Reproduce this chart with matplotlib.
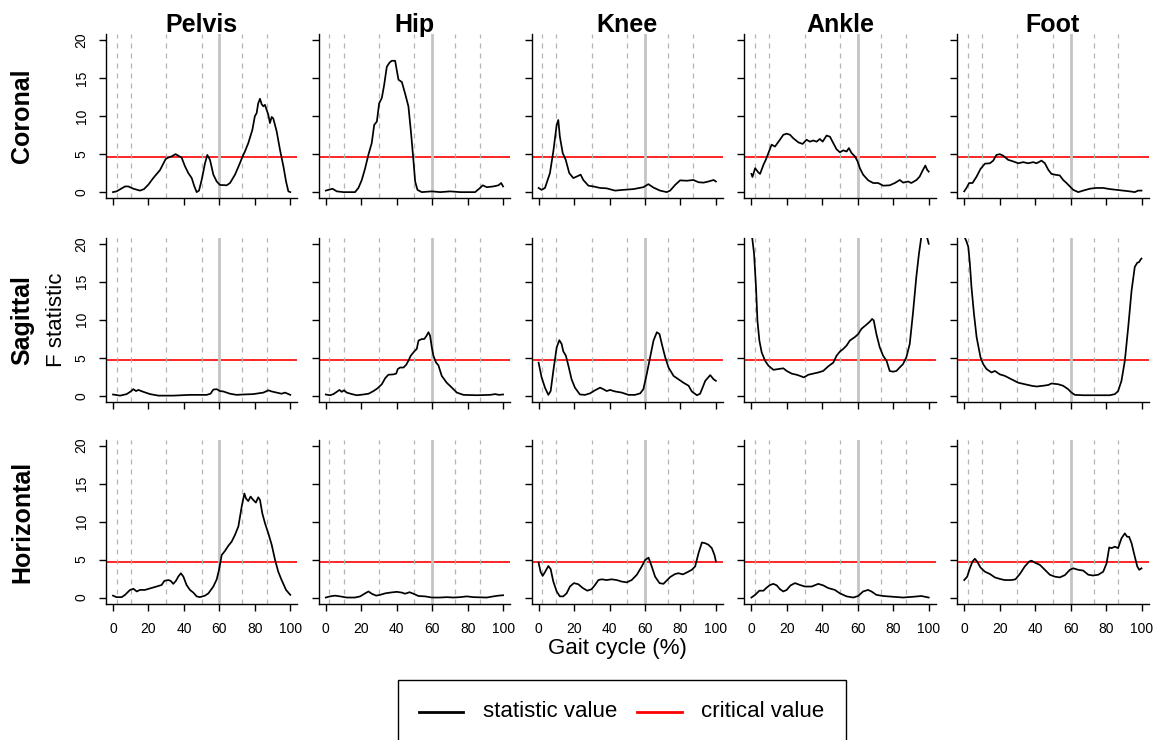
import matplotlib.pyplot as plt
from matplotlib.lines import Line2D
from matplotlib.patches import Rectangle

plt.rcParams['font.family'] = ['Liberation Sans', 'DejaVu Sans']

joints = ['Pelvis', 'Hip', 'Knee', 'Ankle', 'Foot']
planes = ['Coronal', 'Sagittal', 'Horizontal']
critical_value = 4.65
phase_lines = [2, 10, 30, 50, 73, 87]
toe_off = 60
x_ticks = [0, 20, 40, 60, 80, 100]
y_ticks = [0, 5, 10, 15, 20]
legend_labels = ['statistic value', 'critical value']

# ---- Coronal ----
pelvis_cor_x = [0, 2, 6.8, 8.6, 11.5, 15.2, 17.5, 20, 22.7, 26.5, 29.7, 31.2, 33, 35.3, 36.8, 38.7, 40.6,
                42.5, 44.4, 45.9, 47.2, 48.5, 50, 51.9, 53.2, 54.7, 56.6, 58.5, 60.3, 64.1, 66, 68.8, 71.2,
                73.1, 74.4, 76.3, 78.6, 80, 81, 81.9, 82.9, 83.8, 84.8, 85.7, 86.7, 87.6, 88.5, 89.5, 90.4,
                92.3, 94.2, 96.1, 97.6, 98.9, 100]
pelvis_cor_y = [0, 0.1, 0.75, 0.75, 0.45, 0.2, 0.4, 1.0, 1.85, 2.9, 4.35, 4.55, 4.7, 5.0, 4.8, 4.55, 3.4,
                2.5, 1.85, 0.75, 0, 0.2, 1.6, 3.8, 4.9, 4.25, 2.3, 1.4, 0.95, 0.9, 1.2, 2.3, 3.6,
                4.7, 5.35, 6.45, 8.2, 10.0, 10.4, 11.7, 12.3, 11.6, 11.3, 11.5, 10.8, 10.2, 9.1, 9.9, 9.7,
                8.0, 5.55, 3.4, 1.4, 0.1, 0]

hip_cor_x = [0, 3.8, 6.2, 10, 16.5, 18.4, 20.3, 22.2, 24, 25.9, 27.3, 28.8, 30.1, 31.6, 32.9, 34.4, 35.9,
             37.2, 39.1, 40, 41, 42.9, 44.7, 46.6, 48.1, 49.4, 50.4, 51.7, 54.1, 59.8, 64.5, 70.1, 75.8,
             84.2, 87, 88.5, 90.8, 94.5, 97.4, 98.9, 100]
hip_cor_y = [0.2, 0.45, 0.1, 0, 0, 0.55, 1.6, 3.15, 4.9, 6.45, 8.85, 9.3, 11.7, 12.4, 14.1, 16.5, 17.05,
             17.3, 17.3, 16.1, 14.8, 14.5, 13.0, 11.3, 7.75, 4.25, 1.4, 0.3, 0, 0.1, 0, 0.1, 0,
             0, 0.55, 0.9, 0.65, 0.75, 0.9, 1.2, 0.75]

knee_cor_x = [0, 1.7, 3.6, 6.4, 8.3, 10.2, 11.1, 12, 13.6, 15.3, 17.3, 19.6, 21.5, 23.7, 25.2, 28.1, 30.9,
              34.7, 38.4, 43.1, 47.8, 53.5, 59.1, 61.9, 64.8, 68.5, 72.3, 74.2, 77, 79.8, 83.6, 87.3,
              90.2, 93, 95.8, 98.7, 100]
knee_cor_y = [0.55, 0.3, 0.55, 2.5, 5.35, 8.85, 9.5, 7.3, 5.15, 4.25, 2.5, 1.85, 2.05, 2.3, 1.6, 0.85, 0.75,
              0.55, 0.5, 0.2, 0.3, 0.4, 0.65, 1.05, 0.6, 0.2, 0, 0.2, 0.95, 1.55, 1.5, 1.6,
              1.3, 1.25, 1.4, 1.6, 1.4]

ankle_cor_x = [0, 0.6, 2.1, 3.9, 4.9, 6.8, 8.1, 9.6, 11.4, 13.3, 16.1, 18, 19.9, 21.8, 23.6, 26.5, 28.9,
               31.1, 33, 34.9, 36.8, 38.6, 40.2, 42.4, 44.3, 46.2, 48, 49.9, 51.8, 53.7, 55, 56.5, 58.4,
               59.8, 61.2, 63, 65.9, 68.7, 71.5, 74.3, 78, 80.9, 83.7, 85.6, 88.4, 90.2, 93.1, 94.9,
               96.8, 98.1, 99.1, 100]
ankle_cor_y = [2.4, 2.0, 3.15, 2.6, 2.4, 3.6, 4.25, 5.15, 6.25, 6.0, 6.9, 7.55, 7.7, 7.55, 7.1, 6.55, 6.35,
               6.9, 6.65, 6.8, 6.65, 7.0, 6.65, 7.45, 7.3, 6.45, 5.65, 5.25, 5.5, 5.35, 5.8, 5.15, 4.7,
               4.1, 3.15, 2.3, 1.55, 1.2, 1.2, 0.85, 0.9, 1.2, 1.6, 1.25, 1.4, 1.2, 1.6, 2.05,
               2.95, 3.5, 2.95, 2.7]

foot_cor_x = [0, 1.3, 2.8, 4.7, 7, 9.2, 11.7, 14.5, 16.4, 18.2, 20.1, 22, 24.8, 27.6, 30.5, 33.3, 36.1,
              38.9, 40.8, 43.6, 45.5, 47.4, 49.2, 51.1, 53.9, 55.8, 57.7, 59.6, 61.5, 64.3, 67.1, 70.9,
              74.6, 78.4, 82.1, 85.9, 89.7, 93.4, 96.2, 98.1, 100]
foot_cor_y = [0.1, 0.55, 1.2, 1.2, 2.05, 3.05, 3.75, 3.8, 4.15, 4.9, 5.0, 4.8, 4.25, 4.05, 3.8, 3.95, 3.8,
              3.95, 3.8, 4.15, 3.8, 2.95, 2.4, 2.3, 2.2, 1.6, 1.2, 0.75, 0.3, 0, 0.2, 0.45,
              0.55, 0.55, 0.4, 0.3, 0.2, 0.1, 0, 0.2, 0.2]

# ---- Sagittal ----
pelvis_sag_x = [0, 4, 7.7, 10, 11.5, 13, 14.3, 17.1, 20.9, 25.6, 34, 43.4, 52.8, 55, 56.6, 58.5, 60.3,
                62.2, 66, 69.7, 73.5, 79.1, 84.8, 87.6, 89.5, 92.3, 95.1, 97, 100]
pelvis_sag_y = [0.15, 0, 0.2, 0.55, 0.85, 0.6, 0.75, 0.5, 0.2, 0, 0, 0.1, 0.1, 0.25, 0.8, 0.85, 0.6,
                0.55, 0.25, 0.1, 0.15, 0.2, 0.4, 0.7, 0.55, 0.4, 0.25, 0.4, 0.1]

hip_sag_x = [0, 2.4, 4.3, 6.2, 7.7, 9, 10.3, 11.8, 14.7, 17.5, 21.2, 24.1, 26.9, 29.1, 31.6, 33.5, 35.3,
             38.2, 39.7, 40.6, 41.9, 43.8, 45.3, 46.6, 47.9, 49.8, 51.3, 52.3, 54.1, 55.5, 56.6, 57.9,
             58.8, 59.8, 60.7, 62.2, 63.5, 65.4, 68.2, 71.1, 73.9, 77.6, 85.2, 92.7, 95.5, 97.7, 100]
hip_sag_y = [0.15, 0.05, 0.2, 0.5, 0.75, 0.5, 0.7, 0.4, 0.2, 0.05, 0.15, 0.25, 0.6, 0.95, 1.5, 2.3, 2.75,
             2.8, 2.9, 3.5, 3.7, 3.7, 4.05, 4.6, 5.25, 5.8, 6.15, 7.25, 7.45, 7.45, 7.8, 8.35,
             7.9, 6.35, 5.25, 4.35, 4.0, 2.6, 1.7, 1.05, 0.4, 0.1, 0.05, 0.1, 0.2, 0.1, 0.15]

knee_sag_x = [0, 1.7, 3.6, 5.5, 6.8, 8.3, 10.2, 11.7, 13, 13.9, 15.4, 16.8, 18.6, 20.5, 23.3, 26.2, 29,
              31.8, 34.7, 36.5, 38.4, 40.3, 43.1, 46.9, 50.7, 54.4, 57.3, 59.1, 61, 62.9, 64.8, 66.7,
              68.2, 69.5, 71.4, 73.3, 76.1, 78.9, 81.7, 84.6, 86.4, 89.3, 91.1, 94, 96.8, 98.7, 100]
knee_sag_y = [4.35, 2.4, 1.05, 0.1, 0.6, 3.25, 6.35, 7.3, 6.8, 5.85, 5.25, 3.95, 2.15, 1.05, 0.15, 0.1, 0.3,
              0.7, 1.05, 0.85, 0.6, 0.75, 0.55, 0.4, 0.1, 0.1, 0.3, 0.85, 2.85, 5.05, 7.25, 8.35,
              8.1, 6.8, 5.05, 3.7, 2.6, 2.15, 1.7, 1.3, 0.55, 0.05, 0.25, 1.95, 2.7, 2.15, 1.95]

ankle_sag_x = [0, 0.4, 1.5, 2.6, 3.4, 4.5, 5.8, 7.7, 9.6, 12.4, 15.2, 18, 19.9, 22.7, 25.5, 27.4, 29.6,
               32.1, 34.9, 37.7, 40.5, 43.3, 46.2, 48, 49.9, 51.8, 53.7, 55.5, 58.3, 60.2, 62.1, 64.9,
               66.8, 68.1, 69, 70.5, 72.4, 74.3, 76.2, 78, 79.9, 81.8, 83.6, 85.5, 87.4, 89.3, 91.1,
               93, 94.5, 95.9, 97.5, 98.9, 100]
ankle_sag_y = [23.0, 20.9, 18.7, 14.3, 9.9, 7.25, 5.7, 4.6, 3.95, 3.4, 3.5, 3.6, 3.25, 2.9, 2.75, 2.6, 2.4,
               2.75, 2.9, 3.05, 3.25, 3.85, 4.35, 5.25, 5.8, 6.15, 6.6, 7.25, 7.7, 8.1, 8.8, 9.35,
               9.75, 10.1, 9.9, 8.1, 6.35, 5.25, 4.6, 3.25, 3.15, 3.25, 3.7, 4.15, 5.05, 6.8, 10.8,
               15.6, 18.7, 21.0, 23.5, 21.0, 20.0]

foot_sag_x = [0, 1.3, 2.3, 3.2, 4.1, 5.5, 7, 7.9, 9.2, 10.7, 12.6, 15.4, 17.3, 20.1, 22.9, 26.7, 30.5,
              34.2, 38, 40.8, 44.5, 47.4, 49.2, 53, 55.8, 58.6, 60.5, 62.4, 67.1, 74.6, 82.1, 85, 86.8,
              88.7, 90.6, 92.5, 94.4, 96.2, 97.6, 98.7, 99.4, 100]
foot_sag_y = [21.0, 20.3, 19.6, 17.4, 14.3, 10.8, 7.7, 6.6, 5.05, 4.15, 3.5, 3.05, 3.25, 2.8, 2.6, 2.15, 1.7,
              1.5, 1.3, 1.2, 1.3, 1.4, 1.6, 1.5, 1.3, 0.85, 0.4, 0.1, 0.05, 0.05, 0.05, 0.2, 0.6,
              1.95, 4.6, 9.0, 13.85, 16.95, 17.5, 17.6, 17.9, 18.05]

# ---- Horizontal ----
pelvis_hor_x = [0, 2, 4.9, 6.8, 9.6, 11.5, 13.4, 15.2, 18, 20.9, 24.6, 27.4, 29, 31.2, 32.5, 34, 35.5,
                36.8, 38.3, 39.7, 41.5, 43.4, 45.3, 47.2, 49, 51.9, 53.8, 56.6, 58.5, 59.8, 61.3, 63.2,
                65, 66.9, 68.8, 70.7, 72.6, 74.1, 75, 76.3, 77.6, 79.1, 80.6, 81.9, 82.9, 84.2, 85.7,
                87.6, 89.5, 91.4, 93.2, 95.1, 97.6, 100]
pelvis_hor_y = [0.25, 0.05, 0.05, 0.35, 1.0, 1.15, 0.8, 1.0, 1.0, 1.2, 1.45, 1.65, 2.2, 2.3, 2.2, 1.8, 2.2,
                2.75, 3.2, 2.75, 1.65, 1.0, 0.65, 0.15, 0.05, 0.25, 0.55, 1.45, 2.4, 3.65, 5.6, 6.15,
                6.8, 7.35, 8.25, 9.35, 12.0, 13.7, 13.05, 12.7, 13.3, 12.85, 12.5, 13.2, 12.85, 11.1, 9.8,
                8.45, 6.95, 4.95, 3.4, 2.3, 1.0, 0.35]

hip_hor_x = [0, 2.4, 5.3, 8.1, 11.8, 16.5, 19.4, 21.8, 24.1, 25.9, 28.4, 30.6, 33.5, 36.3, 40, 42.9, 44.7,
             47.2, 49.4, 52.3, 56, 59.8, 64.5, 68.2, 72, 75.8, 79.5, 83.3, 90.8, 94.5, 97.4, 100]
hip_hor_y = [0, 0.15, 0.25, 0.15, 0, 0, 0.15, 0.5, 0.8, 0.5, 0.25, 0.35, 0.55, 0.65, 0.75, 0.65, 0.5,
             0.7, 0.5, 0.2, 0.15, 0, 0, 0.05, 0, 0.05, 0.15, 0.05, 0, 0.15, 0.25, 0.3]

knee_hor_x = [0, 1.1, 2.3, 3.6, 5.5, 6.8, 8.3, 10.2, 12, 13.9, 15.8, 17.7, 19.9, 22.4, 24.9, 27.5, 29.9,
              31.8, 33.7, 35.6, 38.4, 41.2, 44.1, 46.9, 49.7, 52.5, 55.4, 58.2, 60.1, 62, 63.8, 65.7,
              68.2, 70.4, 72.3, 74.2, 77, 78.9, 81.4, 83.6, 86.4, 88.3, 90.2, 92.1, 94, 95.8, 97.7,
              99.2, 100]
knee_hor_y = [4.6, 3.4, 2.85, 3.35, 4.15, 3.75, 2.1, 0.8, 0.15, 0.15, 0.55, 1.45, 1.9, 1.75, 1.25, 0.9, 1.1,
              1.65, 2.3, 2.4, 2.3, 2.4, 2.3, 2.1, 2.0, 2.3, 3.0, 4.1, 4.95, 5.25, 4.1, 2.75,
              1.9, 1.8, 2.25, 2.7, 3.1, 3.2, 3.05, 3.3, 3.65, 4.1, 5.85, 7.25, 7.15, 6.95, 6.5,
              5.6, 4.75]

ankle_hor_x = [0, 2.1, 4.5, 6.8, 8.6, 10.5, 12.4, 14.3, 16.1, 18, 19.9, 22.1, 24.6, 27.4, 30.2, 34, 37.7,
               40.5, 43.3, 47.1, 49.9, 53.7, 57.4, 60.2, 63, 65.8, 67.7, 70.5, 74.3, 79.9, 85.6, 91.2,
               95.9, 100]
ankle_hor_y = [0, 0.35, 0.9, 0.9, 1.3, 1.65, 1.8, 1.6, 1.1, 0.8, 1.0, 1.6, 1.9, 1.65, 1.45, 1.45, 1.8,
               1.6, 1.25, 1.0, 0.55, 0.15, 0, 0.2, 0.8, 1.0, 0.8, 0.35, 0.2, 0.1, 0, 0.1,
               0.2, 0]

foot_hor_x = [0, 1.7, 3.2, 4.7, 6, 7.3, 9.2, 11.7, 14.5, 17.3, 20.1, 22.9, 26.7, 28.9, 31.4, 34.2, 36.7,
              38, 39.8, 42.7, 45.5, 48.3, 51.1, 53.9, 56.8, 59.6, 61.5, 64.3, 67.1, 70, 72.7, 75.6,
              78.4, 80.3, 81.8, 83.1, 85, 86.8, 88.7, 90.6, 91.9, 93, 94.4, 96.2, 97.6, 98.7, 100]
foot_hor_y = [2.3, 2.75, 3.85, 4.75, 5.1, 4.75, 3.95, 3.4, 3.1, 2.65, 2.45, 2.3, 2.3, 2.4, 3.1, 4.1, 4.75,
              4.85, 4.6, 4.3, 3.65, 3.0, 2.75, 2.65, 2.95, 3.65, 3.85, 3.65, 3.55, 3.0, 2.9, 3.0,
              3.4, 4.5, 6.6, 6.5, 6.7, 6.5, 7.8, 8.45, 8.0, 8.0, 7.15, 5.4, 4.1, 3.65, 3.85]

curves = [
    [(pelvis_cor_x, pelvis_cor_y), (hip_cor_x, hip_cor_y), (knee_cor_x, knee_cor_y),
     (ankle_cor_x, ankle_cor_y), (foot_cor_x, foot_cor_y)],
    [(pelvis_sag_x, pelvis_sag_y), (hip_sag_x, hip_sag_y), (knee_sag_x, knee_sag_y),
     (ankle_sag_x, ankle_sag_y), (foot_sag_x, foot_sag_y)],
    [(pelvis_hor_x, pelvis_hor_y), (hip_hor_x, hip_hor_y), (knee_hor_x, knee_hor_y),
     (ankle_hor_x, ankle_hor_y), (foot_hor_x, foot_hor_y)],
]

W, H = 1163, 740
fig = plt.figure(figsize=(W / 100, H / 100), dpi=100)


def px_rect(left, top, w, h):
    return [left / W, 1 - (top + h) / H, w / W, h / H]


col_left = [105.9 + 212.8 * j for j in range(5)]
row_top = [34.2, 237.7, 439.6]
ax_w, ax_h = 191.5, 164

for i, plane in enumerate(planes):
    for j, joint in enumerate(joints):
        ax = fig.add_axes(px_rect(col_left[j], row_top[i], ax_w, ax_h))
        ax.set_xlim(-4, 104)
        ax.set_ylim(-0.8, 20.8)
        for s in ['top', 'right']:
            ax.spines[s].set_visible(False)
        for s in ['left', 'bottom']:
            ax.spines[s].set_linewidth(1.0)

        ax.axhline(critical_value, color='red', lw=1.2, zorder=1)
        for p in phase_lines:
            ax.axvline(p, color='#b4b4b4', lw=0.9, ls=(0, (4, 4)), zorder=2)
        ax.axvline(toe_off, color='#c4c4c4', lw=2.0, zorder=2)

        xs, ys = curves[i][j]
        ax.plot(xs, ys, color='black', lw=1.25, zorder=3)

        ax.set_xticks(x_ticks)
        ax.set_yticks(y_ticks)
        ax.tick_params(direction='out', length=5, width=1.0, labelsize=10)
        ax.tick_params(axis='x', pad=8.5)
        ax.tick_params(axis='y', pad=7.5)
        if i < 2:
            ax.set_xticklabels([])
        if j > 0:
            ax.set_yticklabels([])
        else:
            ax.set_yticklabels([str(v) for v in y_ticks], rotation=90, va='center')

        if i == 0:
            fig.text((col_left[j] + ax_w / 2) / W, 1 - 32 / H, joint,
                     ha='center', va='baseline', fontsize=18, fontweight='bold')
    fig.text(22.5 / W, 1 - (row_top[i] + ax_h / 2) / H, plane, rotation=90,
             ha='center', va='center', fontsize=18, fontweight='bold')

fig.text(57 / W, 1 - (row_top[1] + ax_h / 2) / H, 'F statistic', rotation=90,
         ha='center', va='center', fontsize=16)
fig.text(617 / W, 1 - 654 / H, 'Gait cycle (%)', ha='center', va='baseline', fontsize=16)

# legend box, drawn by hand so it can run off the bottom edge like the original
fig.add_artist(Rectangle((398 / W, 1 - 760 / H), (845.7 - 398) / W, 80 / H,
                         transform=fig.transFigure, fill=False, edgecolor='black', lw=1.0))
ly = 1 - 711.7 / H
fig.add_artist(Line2D([419 / W, 462.7 / W], [ly, ly], color='black', lw=2.0,
                      transform=fig.transFigure))
fig.text(483 / W, ly, legend_labels[0], ha='left', va='center', fontsize=16)
fig.add_artist(Line2D([636.7 / W, 681.7 / W], [ly, ly], color='red', lw=2.0,
                      transform=fig.transFigure))
fig.text(701 / W, ly, legend_labels[1], ha='left', va='center', fontsize=16)

plt.savefig('out.png', dpi=100)
